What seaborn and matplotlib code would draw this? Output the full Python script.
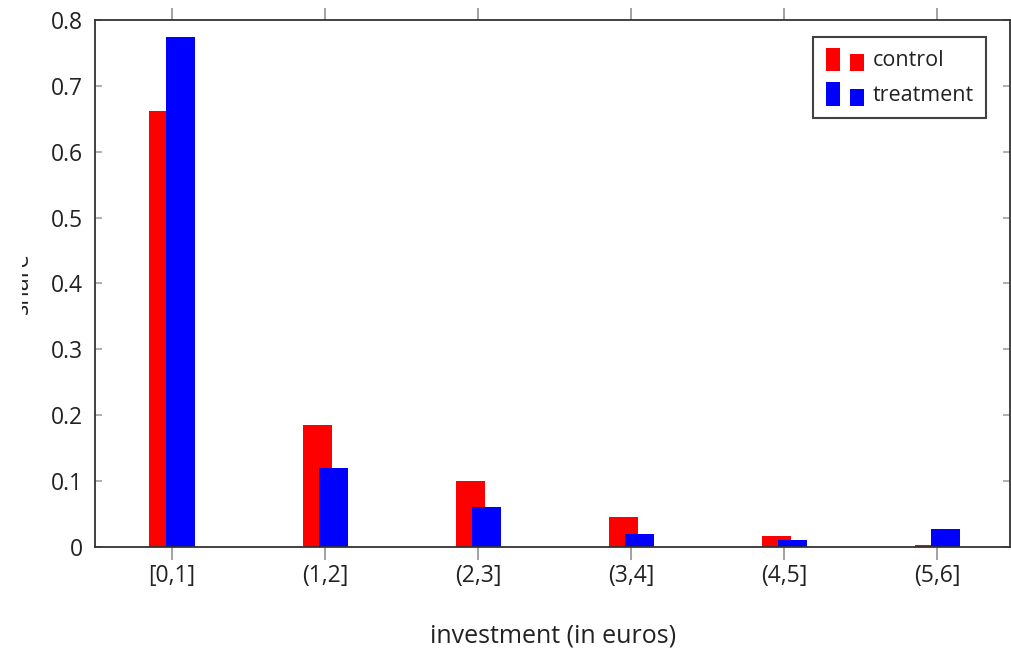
import matplotlib
matplotlib.use("Agg")
import matplotlib.pyplot as plt
from matplotlib.legend_handler import HandlerBase
from matplotlib.patches import Rectangle
from matplotlib.transforms import Bbox
import numpy as np
import pandas as pd
import seaborn as sns

# Share of participants per investment bracket
intervals = ["[0,1]", "(1,2]", "(2,3]", "(3,4]", "(4,5]", "(5,6]"]
control = [0.662, 0.185, 0.100, 0.045, 0.016, 0.003]
treatment = [0.774, 0.120, 0.061, 0.019, 0.010, 0.027]
groups = ["control", "treatment"]
colors = ["#ff0000", "#0000ff"]
yticks = [0, 0.1, 0.2, 0.3, 0.4, 0.5, 0.6, 0.7, 0.8]
ytick_labels = ["0", "0.1", "0.2", "0.3", "0.4", "0.5", "0.6", "0.7", "0.8"]

df = pd.DataFrame({
    "interval": intervals * 2,
    "group": [groups[0]] * len(intervals) + [groups[1]] * len(intervals),
    "share": control + treatment,
})

sns.set_theme(style="white")
plt.rcParams["font.family"] = ["Open Sans", "DejaVu Sans"]
text_color = "#222222"

fig = plt.figure(figsize=(10.12, 6.49), dpi=100)
ax = fig.add_axes([0.0939, 0.1572, 0.9045, 0.812])

sns.barplot(data=df, x="interval", y="share", hue="group", palette=colors,
            hue_order=groups, order=intervals, width=0.21, dodge=True,
            saturation=1, linewidth=0, errorbar=None, legend=False, ax=ax)

# overlapping bars in the pgfplots style: widen each bar around its own center
bar_w = 0.19
for p in ax.patches:
    cx = p.get_x() + p.get_width() / 2
    p.set_width(bar_w)
    p.set_x(cx - bar_w / 2)

ax.set_xlim(-0.503, 5.477)
ax.set_ylim(0, 0.8)
ax.set_yticks(yticks, ytick_labels)

for s in ax.spines.values():
    s.set_visible(True)
    s.set_color("#333333")
    s.set_linewidth(1.3)

ax.tick_params(axis="x", direction="out", length=9, width=1.1, color="#888888",
               top=True, bottom=True, labelsize=16.5, labelcolor=text_color, pad=3)
ax.tick_params(axis="y", direction="in", length=5, width=1.1, color="#999999",
               left=True, right=True, labelsize=16.5, labelcolor=text_color, pad=9)

ax.set_xlabel("investment (in euros)", fontsize=18, color=text_color, labelpad=26)
ylab = ax.set_ylabel("share", fontsize=17, color=text_color, labelpad=12)
# the y label sits partly beyond the page edge and is trimmed there
ylab.set_clip_on(True)
ylab.set_clip_box(Bbox.from_extents(22, 0, 1012, 649))


class TwoBarHandler(HandlerBase):
    def create_artists(self, legend, orig_handle, xdescent, ydescent,
                       width, height, fontsize, trans):
        fc = orig_handle.get_facecolor()
        bw = width * 0.36
        x0, y0 = -xdescent, -ydescent - height * 0.2
        tall = Rectangle((x0, y0), bw, height * 1.3, facecolor=fc,
                         edgecolor="none", transform=trans)
        short = Rectangle((x0 + width - bw, y0), bw, height * 0.95, facecolor=fc,
                          edgecolor="none", transform=trans)
        return [tall, short]


handles = [Rectangle((0, 0), 1, 1, facecolor=c) for c in colors]
leg = ax.legend(handles, groups, handler_map={Rectangle: TwoBarHandler()},
                loc="upper right", bbox_to_anchor=(0.9738, 0.9677),
                borderaxespad=0, fontsize=15.5, frameon=True, fancybox=False,
                handlelength=1.75, handleheight=0.9, handletextpad=0.4,
                labelspacing=0.6, borderpad=0.6)
leg.get_frame().set_edgecolor("#111111")
leg.get_frame().set_linewidth(1.5)
for t in leg.get_texts():
    t.set_color(text_color)

fig.savefig("out.png", dpi=100)
